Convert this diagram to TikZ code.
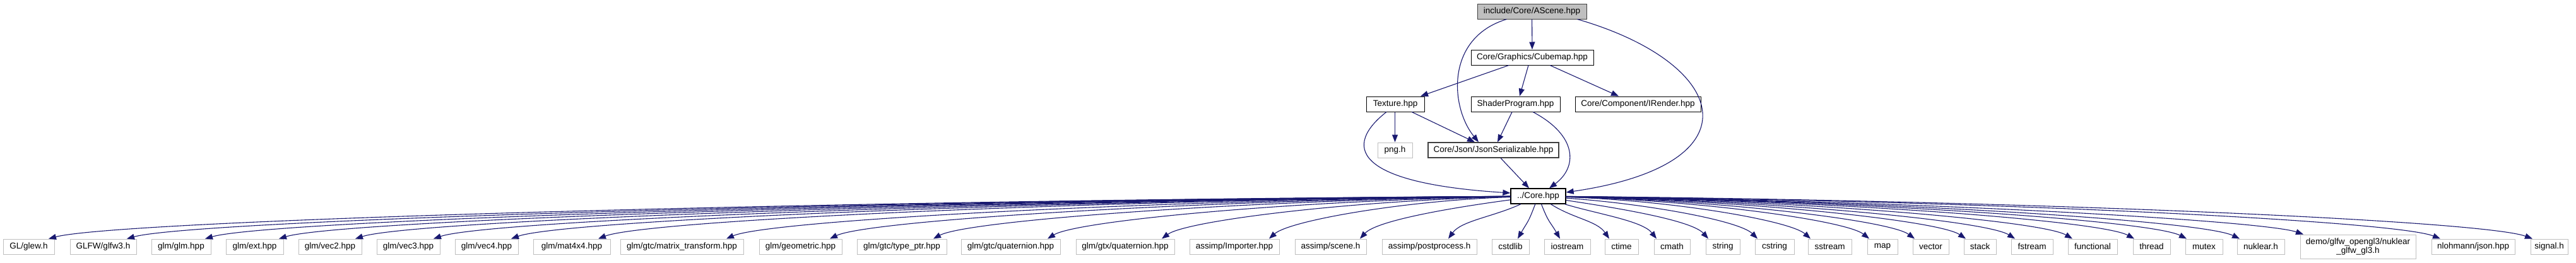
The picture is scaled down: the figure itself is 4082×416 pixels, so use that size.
\documentclass[tikz,border=0pt]{standalone}
\usepackage{fontspec}
\setmainfont{Liberation Sans}
\usetikzlibrary{arrows.meta,calc}
\definecolor{edgeblue}{HTML}{191970}
\definecolor{missing}{HTML}{BFBFBF}
\definecolor{darkborder}{HTML}{404040}
\begin{document}
\begin{tikzpicture}[x=1pt,y=-1pt,
  box/.style={draw=black, line width=1pt, minimum height=24pt, inner xsep=2pt, inner ysep=0pt,
    font=\fontsize{13.5}{14}\selectfont, text=black, fill=white},
  ext/.style={box, draw=missing},
  rootbox/.style={box, fill=missing, draw=darkborder},
  edge/.style={draw=edgeblue, line width=1.1pt, -{Triangle[length=12pt,width=9pt]}}]
\fill[white] (0,0) rectangle (4082,416);
\useasboundingbox (0,0) rectangle (4082,416);

% upper nodes
\node[rootbox, minimum width=173pt] (ascene) at (2427.5,18) {include/Core/AScene.hpp};
\node[box, minimum width=194pt] (cubemap) at (2428,91) {Core/Graphics/Cubemap.hpp};
\node[box, minimum width=92pt] (texture) at (2211,165) {Texture.hpp};
\node[box, minimum width=141pt] (shader) at (2401.5,165) {ShaderProgram.hpp};
\node[box, minimum width=199pt] (irender) at (2595.5,165) {Core/Component/IRender.hpp};
\node[ext, minimum width=55pt] (png) at (2210.5,238) {png.h};
\node[box, draw=darkborder, line width=1.3pt, minimum width=207pt] (json) at (2366.5,238) {Core/Json/JsonSerializable.hpp};
\node[box, line width=1.3pt, minimum width=87pt] (core) at (2437.5,311) {../Core.hpp};

% bottom row
\node[ext, minimum width=81pt] (glew) at (45.5,391) {GL/glew.h};
\node[ext, minimum width=105pt] (glfw) at (163.5,391) {GLFW/glfw3.h};
\node[ext, minimum width=94pt] (glmglm) at (287,391) {glm/glm.hpp};
\node[ext, minimum width=91pt] (glmext) at (403.5,391) {glm/ext.hpp};
\node[ext, minimum width=100pt] (vec2) at (523,391) {glm/vec2.hpp};
\node[ext, minimum width=100pt] (vec3) at (647,391) {glm/vec3.hpp};
\node[ext, minimum width=100pt] (vec4) at (771,391) {glm/vec4.hpp};
\node[ext, minimum width=122pt] (mat) at (906,391) {glm/mat4x4.hpp};
\node[ext, minimum width=195pt] (mtx) at (1080.5,391) {glm/gtc/matrix\_transform.hpp};
\node[ext, minimum width=131pt] (geom) at (1268.5,391) {glm/geometric.hpp};
\node[ext, minimum width=142pt] (typeptr) at (1429,391) {glm/gtc/type\_ptr.hpp};
\node[ext, minimum width=157pt] (gtcq) at (1601.5,391) {glm/gtc/quaternion.hpp};
\node[ext, minimum width=156pt] (gtxq) at (1783,391) {glm/gtx/quaternion.hpp};
\node[ext, minimum width=142pt] (importer) at (1956,391) {assimp/Importer.hpp};
\node[ext, minimum width=113pt] (scene) at (2108.5,391) {assimp/scene.h};
\node[ext, minimum width=150pt] (post) at (2265,391) {assimp/postprocess.h};
\node[ext, minimum width=59pt] (cstdlib) at (2393.5,391) {cstdlib};
\node[ext, minimum width=73pt] (iostream) at (2483.5,391) {iostream};
\node[ext, minimum width=53pt] (ctime) at (2569.5,391) {ctime};
\node[ext, minimum width=57pt] (cmath) at (2649.5,391) {cmath};
\node[ext, minimum width=54pt] (string) at (2730,391) {string};
\node[ext, minimum width=62pt] (cstring) at (2812,391) {cstring};
\node[ext, minimum width=69pt] (sstream) at (2899.5,391) {sstream};
\node[ext, minimum width=48pt] (map) at (2983,391) {map};
\node[ext, minimum width=57pt] (vector) at (3059.5,391) {vector};
\node[ext, minimum width=51pt] (stack) at (3137.5,391) {stack};
\node[ext, minimum width=66pt] (fstream) at (3220,391) {fstream};
\node[ext, minimum width=78pt] (functional) at (3316,391) {functional};
\node[ext, minimum width=59pt] (thread) at (3409.5,391) {thread};
\node[ext, minimum width=59pt] (mutex) at (3492.5,391) {mutex};
\node[ext, minimum width=75pt] (nuklear) at (3582.5,391) {nuklear.h};
\node[ext, minimum width=183pt, minimum height=38pt, align=center] (demo) at (3736.5,391) {demo/glfw\_opengl3/nuklear\\\_glfw\_gl3.h};
\node[ext, minimum width=132pt] (nlohmann) at (3919,391) {nlohmann/json.hpp};
\node[ext, minimum width=59pt] (signal) at (4039.5,391) {signal.h};

% upper edges
\draw[edge] (ascene) -- (cubemap);
\draw[edge] ([xshift=-40pt]ascene.south) .. controls (2290,60) and (2298,170) .. ([xshift=-23.5pt]json.north);
\draw[edge] ([xshift=72pt]ascene.south) .. controls (2740,100) and (2790,260) .. ([yshift=6pt]core.east);
\draw[edge] ([xshift=-37pt]cubemap.south) -- ([xshift=40pt]texture.north);
\draw[edge] ([xshift=-6pt]cubemap.south) -- ([xshift=6.5pt]shader.north);
\draw[edge] ([xshift=28pt]cubemap.south) -- ([xshift=-30.5pt]irender.north);
\draw[edge] ([xshift=-0.5pt]texture.south) -- (png.north);
\draw[edge] ([xshift=26pt]texture.south) -- ([xshift=-29.5pt]json.north);
\draw[edge] ([xshift=-14pt]texture.south) .. controls (2130,230) and (2140,290) .. ([yshift=5pt]core.west);
\draw[edge] ([xshift=-5.5pt]shader.south) -- ([xshift=6.5pt]json.north);
\draw[edge] ([xshift=27.5pt]shader.south) .. controls (2500,215) and (2500,265) .. ([xshift=17.5pt]core.north);
\draw[edge] ([xshift=11.5pt]json.south) -- ([xshift=-14.5pt]core.north);

% fan to the left
\foreach \n/\xe/\d in {glew/77/31.5, glfw/201/37.5, glmglm/325/38, glmext/442/38.5,
  vec2/563/40, vec3/687/40, vec4/810/39, mat/948/42, mtx/1151/70.5, geom/1315/46.5,
  typeptr/1479/50, gtcq/1660/58.5, gtxq/1841/58, importer/2011/55, scene/2155/46.5,
  post/2295/30, cstdlib/2405/11.5}{
  \pgfmathsetmacro\dx{2437-\xe}
  \pgfmathsetmacro\cax{2437-\dx/2}
  \pgfmathsetmacro\cay{318+max(0,40-\dx/10)}
  \pgfmathsetmacro\cbx{\xe+0.04*\dx+15}
  \draw[edge] (core) .. controls (\cax,\cay) and (\cbx,350) .. ([xshift=\d pt]\n.north);
}
% fan to the right
\foreach \n/\xe/\d in {iostream/2472/-11.5, ctime/2550/-19.5, cmath/2625/-24.5,
  string/2707/-23, cstring/2785/-27, sstream/2869/-30.5, map/2962/-21, vector/3034/-25.5,
  stack/3115/-22.5, fstream/3193/-27, functional/3284/-32, thread/3382/-27.5,
  mutex/3465/-27.5, nuklear/3549/-33.5, demo/3650/-86.5, nlohmann/3867/-52, signal/4013/-26.5}{
  \pgfmathsetmacro\dx{\xe-2437}
  \pgfmathsetmacro\cax{2437+\dx/2}
  \pgfmathsetmacro\cay{318+max(0,40-\dx/10)}
  \pgfmathsetmacro\cbx{\xe-0.04*\dx-15}
  \draw[edge] (core) .. controls (\cax,\cay) and (\cbx,350) .. ([xshift=\d pt]\n.north);
}
\end{tikzpicture}
\end{document}
